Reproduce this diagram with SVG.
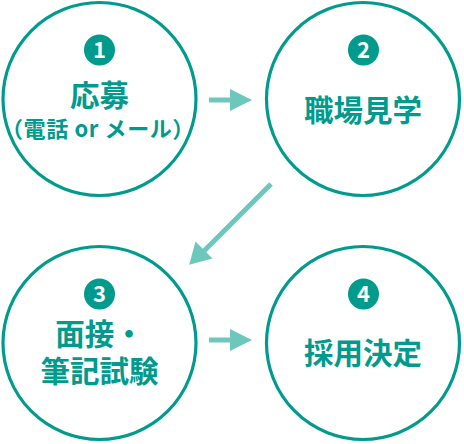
<svg xmlns="http://www.w3.org/2000/svg" width="464" height="444" viewBox="0 0 464 444">
<style>
.ring{fill:#fff;stroke:#009b8d;stroke-width:3.2}
.badge{fill:#009b8d}
.num{fill:#fff;font-family:"Noto Sans CJK JP","Noto Sans",sans-serif;font-weight:700;font-size:22px;text-anchor:middle}
.t{fill:#009b8d;font-family:"Noto Sans CJK JP",sans-serif;font-weight:700;font-size:29.5px;text-anchor:middle}
.s{fill:#009b8d;font-family:"Noto Sans CJK JP",sans-serif;font-weight:700;font-size:22px;letter-spacing:0.6px;text-anchor:middle}
.ln{stroke:#6cc7bc;stroke-width:5;fill:none}
.hd{fill:#6cc7bc}
</style>
<rect width="464" height="444" fill="#fff"/>
<g id="connectors">
<line class="ln" x1="209" y1="100" x2="232" y2="100"/>
<polygon class="hd" points="230,89 252,100 230,111"/>
<line class="ln" x1="271" y1="184" x2="202" y2="253"/>
<polygon class="hd" points="195.5,241.5 189.2,264.8 212.5,258.5"/>
<line class="ln" x1="209" y1="340" x2="232" y2="340"/>
<polygon class="hd" points="230,329 252,340 230,351"/>
</g>
<g id="node1">
<circle class="ring" cx="99.5" cy="99" r="96.5"/>
<circle class="badge" cx="99.5" cy="50" r="15.5"/>
<text class="num" x="99.5" y="58">1</text>
<text class="t" x="99.5" y="106">応募</text>
<text class="s" x="98" y="137">（電話 or メール）</text>
</g>
<g id="node2">
<circle class="ring" cx="363" cy="99" r="96.5"/>
<circle class="badge" cx="363.5" cy="50" r="15.5"/>
<text class="num" x="363.5" y="58">2</text>
<text class="t" x="363" y="121">職場見学</text>
</g>
<g id="node3">
<circle class="ring" cx="99.5" cy="343" r="96.5"/>
<circle class="badge" cx="99.5" cy="294" r="15.5"/>
<text class="num" x="99.5" y="302">3</text>
<text class="t"><tspan x="99.5" y="345">面接・</tspan><tspan x="99.5" y="382">筆記試験</tspan></text>
</g>
<g id="node4">
<circle class="ring" cx="363" cy="343" r="96.5"/>
<circle class="badge" cx="363.5" cy="294" r="15.5"/>
<text class="num" x="363.5" y="302">4</text>
<text class="t" x="363" y="364">採用決定</text>
</g>
</svg>
